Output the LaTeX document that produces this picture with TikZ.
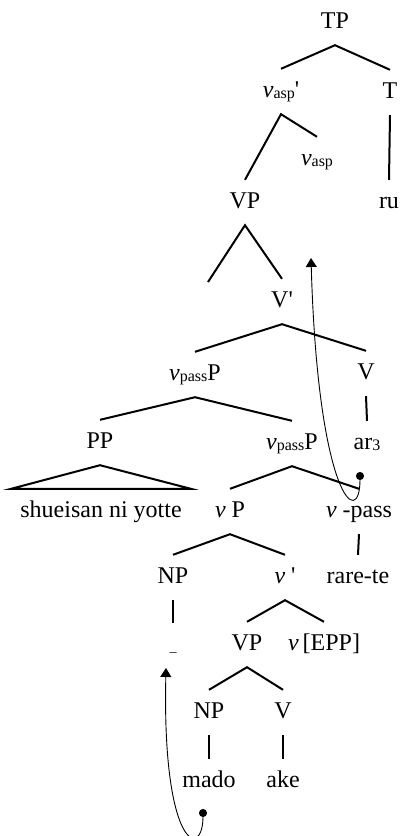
\documentclass[tikz,border=0pt]{standalone}
\usepackage{fontspec}
\setmainfont{Liberation Serif}
\usepackage{tikz}
\usetikzlibrary{arrows.meta}

\newcommand{\lsub}[1]{\raisebox{-1.5pt}{\fontsize{16}{16}\selectfont #1}}

\begin{document}
\begin{tikzpicture}[x=1pt,y=-1pt,
  lab/.style={anchor=base,inner sep=0pt,text height=28pt,text depth=17pt,font=\fontsize{24}{26}\selectfont},
  br/.style={line width=2pt},
  mv/.style={line width=0.9pt,{Circle[length=8pt]}-{Triangle[length=9pt,width=11pt]}}]
  \useasboundingbox (0,0) rectangle (401,836);
  % labels, row by row
  \node[lab] (TP) at (335,28) {TP};
  \node[lab] (vasp) at (281,97) {\textit{v}\lsub{asp}\textquotesingle};
  \node[lab] (T) at (390,98) {T};
  \node[lab] (vaspb) at (317,165) {\textit{v}\lsub{asp}};
  \node[lab] (VP) at (245,208) {VP};
  \node[lab] (ru) at (389,208) {ru};
  \coordinate (VPe) at (208,282);
  \node[lab] (Vprime) at (282,307) {V\textquotesingle};
  \node[lab] (vpassP) at (195,380) {\textit{v}\lsub{pass}P};
  \node[lab] (V) at (366,379) {V};
  \node[lab] (PP) at (100,448) {PP};
  \node[lab] (vpassPb) at (292,449) {\textit{v}\lsub{pass}P};
  \node[lab] (ar) at (367,449) {ar\lsub{3}};
  \node[lab,inner xsep=9pt] (shuei) at (101,517) {shueisan ni yotte};
  \node[lab] (vP) at (230,517) {\textit{v} P};
  \node[lab] (vpass) at (359,517) {\textit{v} -pass};
  \node[lab] (NPa) at (173,583) {NP};
  \node[lab] (vprime) at (285,583) {\textit{v} \textquotesingle};
  \node[lab] (rarete) at (358,583) {rare-te};
  \node[lab] (trace) at (173,651) {{\fontsize{14}{14}\selectfont\_}};
  \node[lab] (VPb) at (247,650) {VP};
  \node[lab] (vEPP) at (324,650) {\textit{v}\,[EPP]};
  \node[lab] (NPb) at (209,718) {NP};
  \node[lab] (Vb) at (283,718) {V};
  \node[lab] (mado) at (209,787) {mado};
  \node[lab] (ake) at (283,787) {ake};
  % branches
  \draw[br] (vasp.north) -- (TP.south) -- (T.north);
  \draw[br] (VP.north) -- (vasp.south) -- (vaspb.north);
  \draw[br] (T.south) -- (ru.north);
  \draw[br] (VPe) -- (VP.south) -- (Vprime.north);
  \draw[br] (vpassP.north) -- (Vprime.south) -- (V.north);
  \draw[br] (V.south) -- (ar.north);
  \draw[br] (PP.north) -- (vpassP.south) -- (vpassPb.north);
  \draw[br] (PP.south) -- (shuei.north west) -- (shuei.north east) -- cycle;
  \draw[br] (vP.north) -- (vpassPb.south) -- (vpass.north);
  \draw[br] (vpass.south) -- (rarete.north);
  \draw[br] (NPa.north) -- (vP.south) -- (vprime.north);
  \draw[br] (NPa.south) -- (trace.north);
  \draw[br] (VPb.north) -- (vprime.south) -- (vEPP.north);
  \draw[br] (NPb.north) -- (VPb.south) -- (Vb.north);
  \draw[br] (NPb.south) -- (mado.north);
  \draw[br] (Vb.south) -- (ake.north);
  % movement
  \coordinate (src1) at (360,472);
  \coordinate (tgt1) at (311,258);
  \coordinate (src2) at (203,809);
  \coordinate (tgt2) at (166,668);
  \draw[mv] (src1) .. controls (360,530) and (318,500) .. (tgt1);
  \draw[mv] (src2) .. controls (203,860) and (162,850) .. (tgt2);
\end{tikzpicture}
\end{document}
